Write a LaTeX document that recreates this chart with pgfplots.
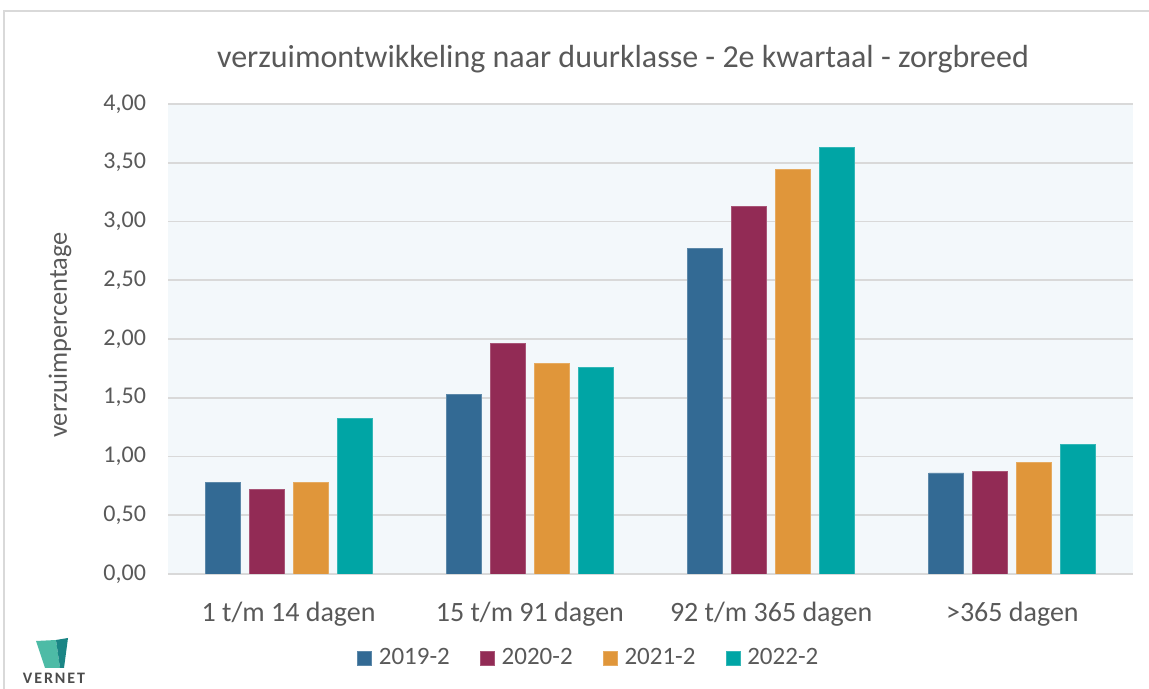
\documentclass[border=0pt]{standalone}
\usepackage{pgfplots}
\pgfplotsset{compat=1.18}
\usepackage{fontspec}
\setmainfont{Carlito}
\definecolor{c1}{HTML}{336A94}
\definecolor{c2}{HTML}{922B55}
\definecolor{c3}{HTML}{E0963A}
\definecolor{c4}{HTML}{00A5A5}
\definecolor{bg}{HTML}{F3F8FB}
\definecolor{gridc}{HTML}{D9D9D9}
\definecolor{txt}{HTML}{595959}
\definecolor{logoa}{HTML}{4DBBA6}
\definecolor{logob}{HTML}{1A8585}
\begin{document}
\begin{tikzpicture}
\useasboundingbox (0,0) rectangle (574.5pt,344.5pt);
\draw[gridc, line width=0.8pt] (2pt,0) -- (2pt,339pt) -- (574.5pt,339pt);
\begin{axis}[
  at={(84pt,57.5pt)}, anchor=south west,
  scale only axis, width=482.5pt, height=235pt,
  xmin=-0.5, xmax=3.5, ymin=0, ymax=4,
  ytick distance=0.5,
  xtick={0,1,2,3},
  xticklabels={1 t/m 14 dagen, 15 t/m 91 dagen, 92 t/m 365 dagen, >365 dagen},
  x tick label style={font=\fontsize{14}{16}\selectfont, text=txt, yshift=-6pt},
  y tick label style={font=\fontsize{12}{14}\selectfont, text=txt, xshift=-7.5pt},
  yticklabel style={/pgf/number format/.cd, fixed, fixed zerofill, precision=2, use comma, assume math mode=true},
  ymajorgrids, major grid style={gridc, line width=0.8pt},
  axis line style={draw=none},
  major tick style={draw=none},
  axis background/.style={fill=bg},
  ybar, bar width=17.5pt,
  legend columns=4,
  legend style={at={(0.437,-0.1787)}, anchor=center, draw=none, fill=none,
    font=\fontsize{12.5}{15}\selectfont, text=txt,
    /tikz/every even column/.append style={column sep=13pt}},
  legend image code/.code={\fill[#1] (0pt,-3.5pt) rectangle (7pt,3.5pt);},
  legend cell align=left,
]
\addplot[fill=c1, draw=c1!80!white, bar shift=-33pt] coordinates {(0,0.78) (1,1.53) (2,2.77) (3,0.86)};
\addplot[fill=c2, draw=c2!80!white, bar shift=-11pt] coordinates {(0,0.72) (1,1.96) (2,3.13) (3,0.87)};
\addplot[fill=c3, draw=c3!80!white, bar shift=11pt] coordinates {(0,0.78) (1,1.79) (2,3.44) (3,0.95)};
\addplot[fill=c4, draw=c4!80!white, bar shift=33pt] coordinates {(0,1.32) (1,1.76) (2,3.63) (3,1.10)};
\legend{\hspace{1.5pt}2019-2, \hspace{1.5pt}2020-2, \hspace{1.5pt}2021-2, \hspace{1.5pt}2022-2}
\end{axis}
\node[text=txt, font=\fontsize{16}{19}\selectfont] at (311.5pt,315pt) {verzuimontwikkeling naar duurklasse - 2e kwartaal - zorgbreed};
\node[text=txt, font=\fontsize{13.2}{16}\selectfont, rotate=90] at (30pt,177pt) {verzuimpercentage};
% logo
\fill[logoa] (18pt,24pt) -- (28pt,24.5pt) -- (30pt,10.5pt) -- (22.5pt,10.5pt) -- cycle;
\fill[logob] (28pt,24.5pt) -- (34pt,25.5pt) -- (32pt,10.5pt) -- (30pt,10.5pt) -- cycle;
\node[text=txt!85!black, font=\fontsize{8}{9}\selectfont\bfseries\addfontfeatures{LetterSpace=12}] at (27pt,5.5pt) {VERNET};
\end{tikzpicture}
\end{document}
